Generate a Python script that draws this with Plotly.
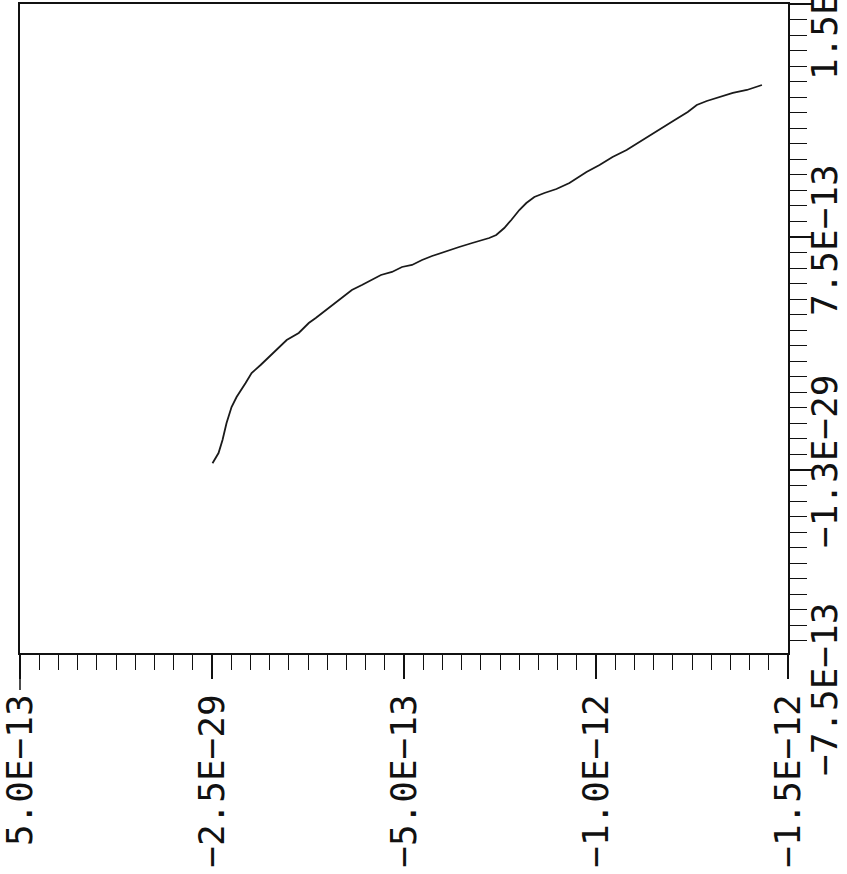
import plotly.graph_objects as go

# Curve data (values in units)
# "h" = value along the bottom (reversed) axis, "v" = value along the right axis
h_vals = [-0.013, -0.170, -0.274, -0.379, -0.509, -0.640, -0.875, -1.031, -1.266, -1.528,
          -1.736, -1.945, -2.259, -2.520, -2.702, -2.964, -3.225, -3.642, -3.904, -4.164,
          -4.400, -4.687, -4.948, -5.209, -5.470, -5.731, -6.097, -6.436, -6.776, -7.219,
          -7.402, -7.611, -7.794, -8.003, -8.186, -8.394, -8.656, -8.969, -9.308, -9.752,
          -10.092, -10.431, -10.797, -11.084, -11.397, -11.737, -12.050, -12.389, -12.624, -12.885,
          -13.225, -13.564, -13.930, -14.321]
v_vals = [0.216, 0.547, 0.966, 1.513, 2.028, 2.350, 2.801, 3.122, 3.380, 3.702,
          3.927, 4.185, 4.410, 4.732, 4.893, 5.150, 5.408, 5.794, 5.955, 6.116,
          6.277, 6.374, 6.535, 6.599, 6.760, 6.889, 7.050, 7.178, 7.307, 7.468,
          7.565, 7.790, 8.048, 8.369, 8.595, 8.788, 8.917, 9.045, 9.239, 9.593,
          9.818, 10.075, 10.301, 10.526, 10.784, 11.041, 11.267, 11.524, 11.749, 11.878,
          12.007, 12.136, 12.232, 12.393]
scale = 1e-13
h = [a * scale for a in h_vals]
v = [a * scale for a in v_vals]

# Tick labels
bottom_tickvals = [5e-13, 0.0, -5e-13, -1e-12, -1.5e-12]
bottom_ticktext = ["5.0E\u221213", "\u22122.5E\u221229", "\u22125.0E\u221213", "\u22121.0E\u221212", "\u22121.5E\u221212"]
right_tickvals = [-7.5e-13, 0.0, 7.5e-13, 1.5e-12]
right_ticktext = ["\u22127.5E\u221213", "\u22121.3E\u221229", "7.5E\u221213", "1.5E\u221212"]

FONT = "DejaVu Sans Mono"
FS = 36
W, H = 847, 874
L, R, T, B = 20, 59, 4, 221

fig = go.Figure()
fig.add_trace(go.Scatter(x=h, y=v, mode="lines",
                         line=dict(color="#1a1a1a", width=1.8),
                         showlegend=False, hoverinfo="skip"))

fig.update_layout(
    width=W, height=H,
    margin=dict(l=L, r=R, t=T, b=B, pad=0, autoexpand=False),
    paper_bgcolor="white", plot_bgcolor="white",
    font=dict(family=FONT, size=FS, color="#111"),
    xaxis=dict(
        range=[5e-13, -1.5e-12], automargin=False,
        tickmode="array", tickvals=bottom_tickvals, ticktext=bottom_ticktext,
        tickangle=-90, ticks="outside", ticklen=24, tickwidth=1.5, tickcolor="#111",
        showline=True, linecolor="#111", linewidth=2, mirror=True,
        showgrid=False, zeroline=False,
        ticklabelstandoff=1, ticklabeloverflow="allow",
        minor=dict(tickmode="linear", tick0=0, dtick=5e-14, ticks="outside",
                   ticklen=15, tickwidth=1.3, tickcolor="#111", showgrid=False),
        tickfont=dict(family=FONT, size=FS, color="#111"),
    ),
    yaxis=dict(
        side="right",
        range=[-5.89e-13, 1.5e-12], automargin=False,
        tickmode="array", tickvals=right_tickvals, showticklabels=False,
        ticks="outside", ticklen=22, tickwidth=1.5, tickcolor="#111",
        showline=True, linecolor="#111", linewidth=2, mirror=True,
        showgrid=False, zeroline=False,
        minor=dict(tickmode="linear", tick0=0, dtick=5e-14, ticks="outside",
                   ticklen=17, tickwidth=1.3, tickcolor="#111", showgrid=False),
    ),
)

plot_w = W - L - R
plot_h = H - T - B
# extension of left frame line below the bottom axis
fig.add_shape(type="line", xref="paper", yref="paper",
              x0=0, x1=0, y0=0, y1=-37 / plot_h,
              line=dict(color="#111", width=1.5))
# extension of top frame line past the right axis
fig.add_shape(type="line", xref="paper", yref="paper",
              x0=1, x1=1 + 17 / plot_w, y0=1, y1=1,
              line=dict(color="#111", width=1.5))

# right-axis labels (rotated); positions follow the axis scale
y0, y1 = -5.89e-13, 1.5e-12
label_x = (824 - L) / plot_w
label_shift = [13, 8, -3, 0]
for val, txt, dy in zip(right_tickvals, right_ticktext, label_shift):
    fig.add_annotation(text=txt, xref="paper", yref="paper",
                       x=label_x, y=(val - y0) / (y1 - y0), yshift=dy,
                       xanchor="center", yanchor="middle", textangle=-90,
                       showarrow=False, font=dict(family=FONT, size=FS, color="#111"))

fig.write_html("out.html")
